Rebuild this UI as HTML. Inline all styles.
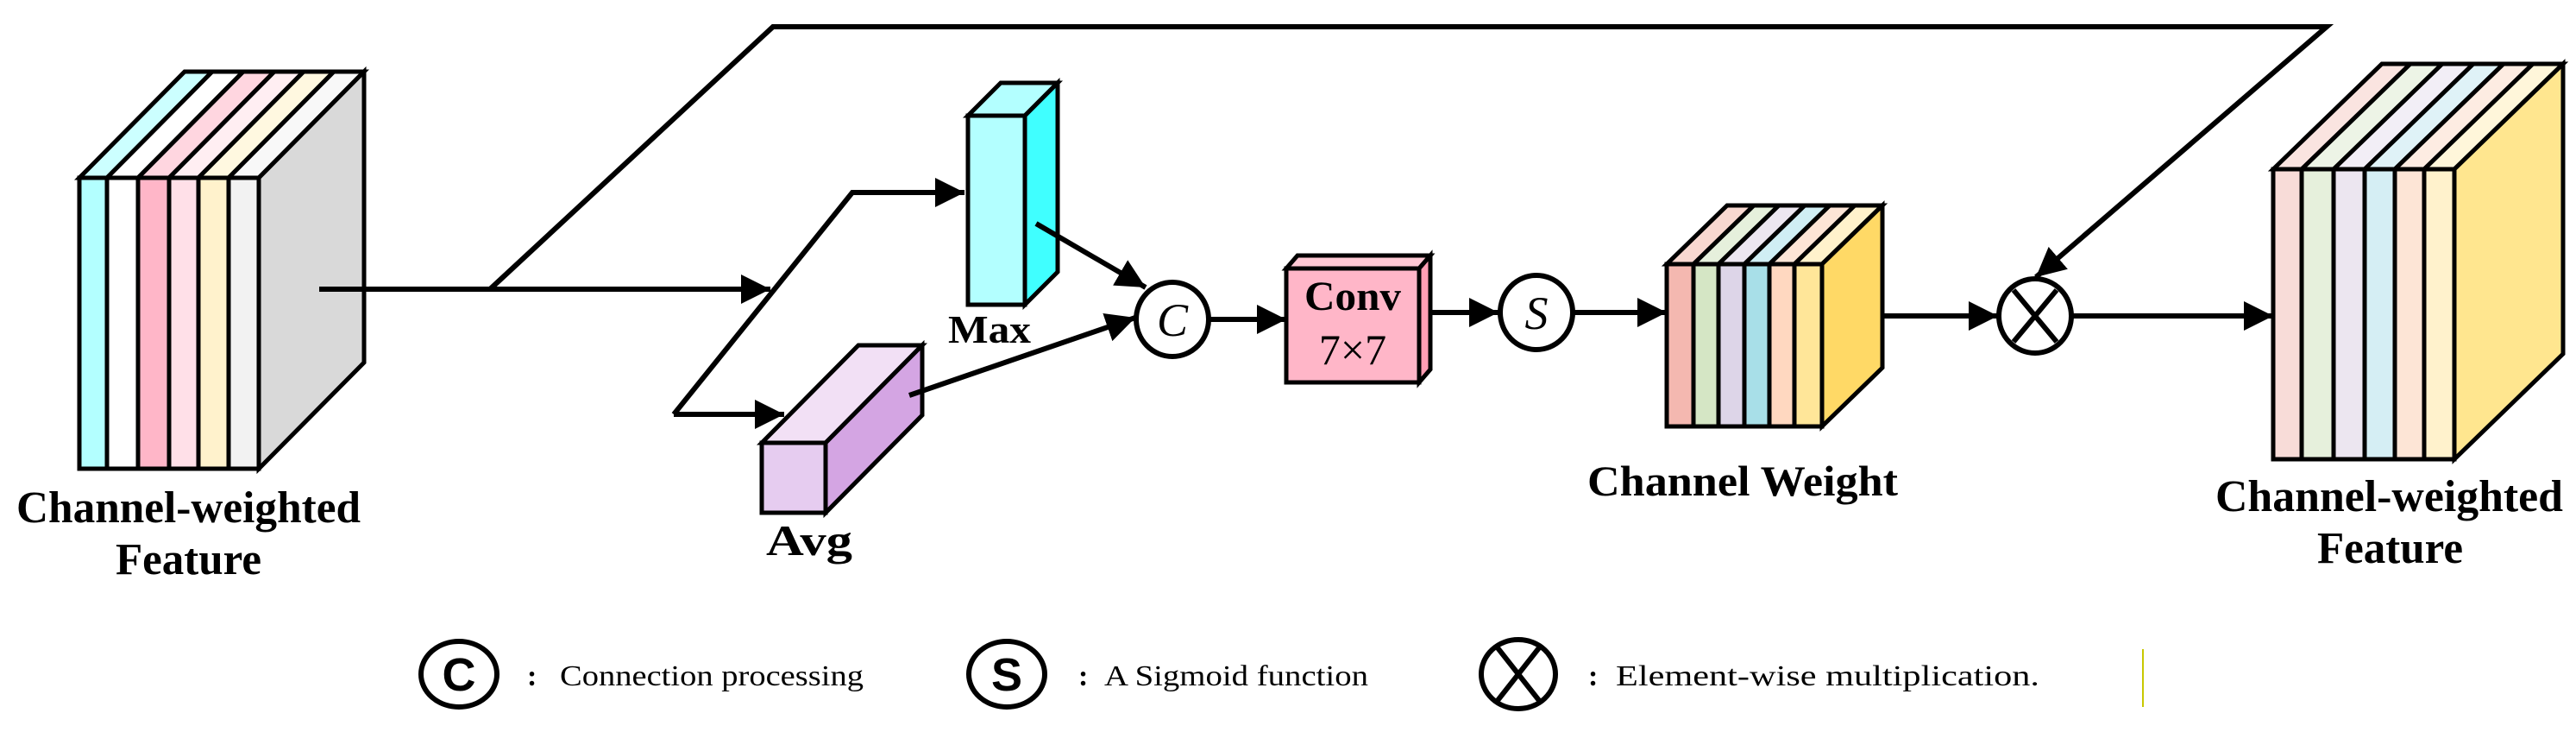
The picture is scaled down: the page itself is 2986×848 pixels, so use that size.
<!DOCTYPE html>
<html><head><meta charset="utf-8"><style>html,body{margin:0;padding:0;background:#fff}svg{display:block}.s{font-family:"Liberation Serif","Times New Roman",serif}.a{font-family:"Liberation Sans",sans-serif}</style></head>
<body>
<svg width="2986" height="848" viewBox="0 0 2986 848" xmlns="http://www.w3.org/2000/svg">
<defs>
<marker id="a" viewBox="0 0 10 10" refX="10" refY="5" markerWidth="34" markerHeight="34" markerUnits="userSpaceOnUse" orient="auto"><path d="M0,0 L10,5 L0,10 z" fill="#000"/></marker>
</defs>
<g stroke="#000" stroke-width="5" stroke-linejoin="miter">
<rect x="92" y="206" width="32" height="337" fill="#b3ffff"/>
<rect x="124" y="206" width="36" height="337" fill="#fff"/>
<rect x="160" y="206" width="36" height="337" fill="#ffb6c8"/>
<rect x="196" y="206" width="34" height="337" fill="#ffe0e8"/>
<rect x="230" y="206" width="35" height="337" fill="#fff2cc"/>
<rect x="265" y="206" width="35" height="337" fill="#f2f2f2"/>
<polygon points="92,206 214,83 246,83 124,206" fill="#ccffff"/>
<polygon points="124,206 246,83 282,83 160,206" fill="#fff"/>
<polygon points="160,206 282,83 318,83 196,206" fill="#ffd6e0"/>
<polygon points="196,206 318,83 352,83 230,206" fill="#ffeef2"/>
<polygon points="230,206 352,83 387,83 265,206" fill="#fff8e0"/>
<polygon points="265,206 387,83 422,83 300,206" fill="#f8f8f8"/>
<polygon points="300,206 422,83 422,420 300,543" fill="#d9d9d9"/>

<rect x="1122" y="134" width="66" height="219" fill="#b3ffff"/>
<polygon points="1122,134 1160,96 1226,96 1188,134" fill="#b3ffff"/>
<polygon points="1188,134 1226,96 1226,315 1188,353" fill="#40ffff"/>
<rect x="883" y="513" width="74" height="81" fill="#e6ccf0"/>
<polygon points="883,513 995,400 1069,400 957,513" fill="#f2e0f5"/>
<polygon points="957,513 1069,400 1069,481 957,594" fill="#d4a5e3"/>
<rect x="1491" y="311" width="154" height="132" fill="#ffb6c8"/>
<polygon points="1491,311 1504,296 1658,296 1645,311" fill="#ffc8d4"/>
<polygon points="1645,311 1658,296 1658,428 1645,443" fill="#ff9eb4"/>

<rect x="1932" y="306" width="31" height="188" fill="#f4b8b0"/>
<rect x="1963" y="306" width="29" height="188" fill="#d5e6c5"/>
<rect x="1992" y="306" width="30" height="188" fill="#ddd5e8"/>
<rect x="2022" y="306" width="29" height="188" fill="#a8dfe8"/>
<rect x="2051" y="306" width="29" height="188" fill="#ffd8c0"/>
<rect x="2080" y="306" width="32" height="188" fill="#ffe699"/>
<polygon points="1932,306 2002,238 2033,238 1963,306" fill="#f8d8d0"/>
<polygon points="1963,306 2033,238 2062,238 1992,306" fill="#e6f0dc"/>
<polygon points="1992,306 2062,238 2092,238 2022,306" fill="#ece6f0"/>
<polygon points="2022,306 2092,238 2121,238 2051,306" fill="#d0eef4"/>
<polygon points="2051,306 2121,238 2150,238 2080,306" fill="#fde5d6"/>
<polygon points="2080,306 2150,238 2182,238 2112,306" fill="#fff2cc"/>
<polygon points="2112,306 2182,238 2182,426 2112,494" fill="#ffd966"/>

<rect x="2635" y="196" width="33" height="336" fill="#f8dcd8"/>
<rect x="2668" y="196" width="37" height="336" fill="#e6f0dc"/>
<rect x="2705" y="196" width="36" height="336" fill="#ece6f0"/>
<rect x="2741" y="196" width="35" height="336" fill="#d5eef4"/>
<rect x="2776" y="196" width="34" height="336" fill="#fde5d6"/>
<rect x="2810" y="196" width="35" height="336" fill="#fff2cc"/>
<polygon points="2635,196 2761,74 2794,74 2668,196" fill="#fae4e0"/>
<polygon points="2668,196 2794,74 2831,74 2705,196" fill="#edf4e6"/>
<polygon points="2705,196 2831,74 2867,74 2741,196" fill="#f2eef6"/>
<polygon points="2741,196 2867,74 2902,74 2776,196" fill="#dff2f7"/>
<polygon points="2776,196 2902,74 2936,74 2810,196" fill="#fdece2"/>
<polygon points="2810,196 2936,74 2971,74 2845,196" fill="#fff6da"/>
<polygon points="2845,196 2971,74 2971,410 2845,532" fill="#ffe68f"/>
</g>

<g stroke="#000" stroke-width="6" fill="none">
<line x1="370" y1="335" x2="893" y2="335" marker-end="url(#a)"/>
<polyline points="568,335 896,31 2697,31 2360,321" marker-end="url(#a)"/>
<polyline points="781,480 988,223 1118,223" marker-end="url(#a)"/>
<line x1="781" y1="480" x2="909" y2="480" marker-end="url(#a)"/>
<line x1="1201" y1="259" x2="1328" y2="333" marker-end="url(#a)"/>
<line x1="1054" y1="458" x2="1316" y2="368" marker-end="url(#a)"/>
<line x1="1401" y1="370" x2="1491" y2="370" marker-end="url(#a)"/>
<line x1="1658" y1="362" x2="1737" y2="362" marker-end="url(#a)"/>
<line x1="1823" y1="362" x2="1932" y2="362" marker-end="url(#a)"/>
<line x1="2182" y1="366" x2="2316" y2="366" marker-end="url(#a)"/>
<line x1="2401" y1="366" x2="2635" y2="366" marker-end="url(#a)"/>
<ellipse cx="1359" cy="370" rx="42" ry="43" fill="#fff"/>
<ellipse cx="1781" cy="362" rx="42" ry="43" fill="#fff"/>
<ellipse cx="2359" cy="366" rx="42" ry="43" fill="#fff"/>
<line x1="2334" y1="336" x2="2384" y2="396"/>
<line x1="2384" y1="336" x2="2334" y2="396"/>
<ellipse cx="532" cy="781" rx="44" ry="38"/>
<ellipse cx="1167" cy="781" rx="44" ry="38"/>
<ellipse cx="1760" cy="781" rx="43" ry="40"/>
<line x1="1734" y1="748" x2="1786" y2="814"/>
<line x1="1786" y1="748" x2="1734" y2="814"/>
</g>
<line x1="2484" y1="752" x2="2484" y2="819" stroke="#c8c800" stroke-width="2"/>

<g class="s" fill="#000">
<text x="1359" y="389" font-size="54" font-style="italic" text-anchor="middle">C</text>
<text x="1781" y="381" font-size="54" font-style="italic" text-anchor="middle">S</text>
<g font-weight="bold">
<text x="19" y="605" font-size="52" textLength="399" lengthAdjust="spacingAndGlyphs">Channel-weighted</text>
<text x="134" y="665" font-size="52" textLength="169" lengthAdjust="spacingAndGlyphs">Feature</text>
<text x="1099" y="397" font-size="46" textLength="96" lengthAdjust="spacingAndGlyphs">Max</text>
<text x="888" y="643" font-size="50" textLength="100" lengthAdjust="spacingAndGlyphs">Avg</text>
<text x="1512" y="359" font-size="48" textLength="112" lengthAdjust="spacingAndGlyphs">Conv</text>
<text x="1840" y="574" font-size="50" textLength="360" lengthAdjust="spacingAndGlyphs">Channel Weight</text>
<text x="2568" y="592" font-size="52" textLength="403" lengthAdjust="spacingAndGlyphs">Channel-weighted</text>
<text x="2686" y="652" font-size="52" textLength="169" lengthAdjust="spacingAndGlyphs">Feature</text>
<text x="611" y="794" font-size="34">:</text>
<text x="1250" y="794" font-size="34">:</text>
<text x="1841" y="794" font-size="34">:</text>
</g>
<text x="1568" y="422" font-size="50" text-anchor="middle">7×7</text>
<text x="649" y="794" font-size="34" textLength="352" lengthAdjust="spacingAndGlyphs">Connection processing</text>
<text x="1280" y="794" font-size="34" textLength="306" lengthAdjust="spacingAndGlyphs">A Sigmoid function</text>
<text x="1873" y="794" font-size="34" textLength="491" lengthAdjust="spacingAndGlyphs">Element-wise multiplication.</text>
</g>
<g class="a" fill="#000" font-size="54" font-weight="bold" text-anchor="middle">
<text x="532" y="800">C</text>
<text x="1167" y="800">S</text>
</g>
</svg>
</body></html>
